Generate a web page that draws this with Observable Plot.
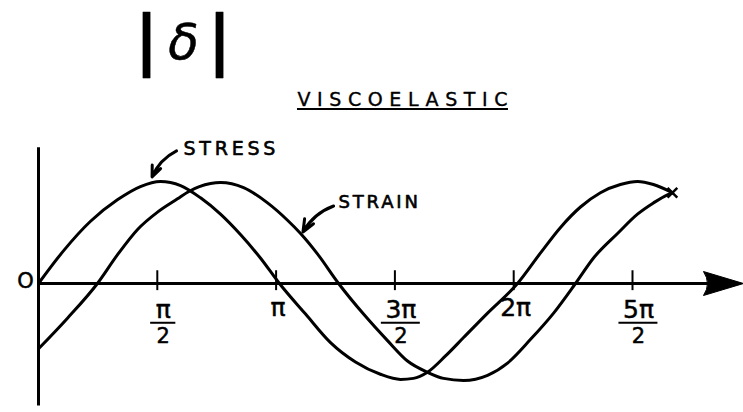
<!DOCTYPE html>
<html><head><meta charset="utf-8">
<script src="https://cdn.jsdelivr.net/npm/d3@7"></script>
<script src="https://cdn.jsdelivr.net/npm/@observablehq/plot@0.6"></script>
<style>body{margin:0;background:#fff} svg{display:block;background:#fff}</style>
</head><body><div id="chart"></div>
<script>
// phase in units of π, amplitude normalised to 1
const stressPhase = [0, 0.105, 0.219, 0.332, 0.429, 0.513, 0.598, 0.682, 0.766, 0.850, 0.934, 1.014, 1.124, 1.229, 1.334, 1.439, 1.524, 1.578, 1.637, 1.713, 1.789, 1.890, 2.016, 2.113, 2.197, 2.281, 2.365, 2.449, 2.521, 2.588, 2.668];
const stressValue = [0, 0.32, 0.61, 0.82, 0.95, 1.0, 0.96, 0.84, 0.68, 0.48, 0.25, 0, -0.30, -0.58, -0.77, -0.89, -0.94, -0.93, -0.87, -0.71, -0.53, -0.29, 0, 0.30, 0.55, 0.75, 0.89, 0.97, 1.0, 0.97, 0.89];
const strainPhase = [0, 0.122, 0.248, 0.332, 0.417, 0.501, 0.585, 0.631, 0.724, 0.766, 0.863, 0.964, 1.048, 1.103, 1.174, 1.263, 1.368, 1.469, 1.553, 1.637, 1.705, 1.789, 1.890, 1.974, 2.070, 2.168, 2.260, 2.336, 2.437, 2.521, 2.588, 2.647, 2.668];
const strainValue = [-0.64, -0.34, 0, 0.28, 0.53, 0.70, 0.83, 0.90, 0.98, 0.99, 0.94, 0.79, 0.62, 0.49, 0.29, 0, -0.30, -0.56, -0.76, -0.87, -0.93, -0.95, -0.90, -0.78, -0.55, -0.29, 0, 0.25, 0.49, 0.68, 0.79, 0.87, 0.89];
const tickValues = [0.5, 1, 1.5, 2, 2.5];
const tickNumerators = ["π", "π", "3π", "2π", "5π"];
const tickDenominators = ["2", "", "2", "", "2"];
const titleText = "δ";
const headingText = "VISCOELASTIC";
const stressLabel = "STRESS";
const strainLabel = "STRAIN";
const originLabel = "O";

const stress = stressPhase.map((x, i) => ({x, y: stressValue[i]}));
const strain = strainPhase.map((x, i) => ({x, y: strainValue[i]}));
const ticks = tickValues.map((v, i) => ({v, num: tickNumerators[i], den: tickDenominators[i]}));
const fractions = ticks.filter(d => d.den);
const singles = ticks.filter(d => !d.den);

const font = "DejaVu Sans, sans-serif";
const xEnd = 2.967;
const arrowHead = {draw(ctx) {
  ctx.moveTo(0, 0);
  ctx.lineTo(-40, -12);
  ctx.quadraticCurveTo(-32, 0, -40, 12);
  ctx.closePath();
}};
const ink = {fill: "black", stroke: "black", fontFamily: font};

const chart = Plot.plot({
  width: 743, height: 412,
  marginTop: 0, marginRight: 0, marginBottom: 0, marginLeft: 0,
  x: {domain: [0, 2.5], range: [38, 632], axis: null},
  y: {domain: [-1, 1], range: [385, 181], axis: null},
  marks: [
    // axes
    Plot.ruleY([0], {x1: 0, x2: xEnd - 0.05, stroke: "black", strokeWidth: 3}),
    Plot.ruleX([0], {y1: -1.2, y2: 1.33, stroke: "black", strokeWidth: 3}),
    Plot.dot([{x: xEnd, y: 0}], {x: "x", y: "y", symbol: arrowHead, fill: "black", stroke: "black", strokeWidth: 1}),
    Plot.ruleX(ticks, {x: "v", y1: -0.07, y2: 0.125, stroke: "black", strokeWidth: 2}),
    // curves
    Plot.line(stress, {x: "x", y: "y", curve: "monotone-x", stroke: "black", strokeWidth: 3}),
    Plot.line(strain, {x: "x", y: "y", curve: "monotone-x", stroke: "black", strokeWidth: 3}),
    Plot.dot([stress[stress.length - 1]], {x: "x", y: "y", symbol: "times", r: 4.5, stroke: "black", strokeWidth: 2.5}),
    // tick labels
    Plot.text(fractions, {x: "v", y: -0.255, text: "num", dx: 6, fontSize: 25, strokeWidth: 0.5, ...ink}),
    Plot.ruleY(fractions, {y: -0.385, x1: d => d.v - (d.num.length > 1 ? 0.082 : 0.053) + 0.025, x2: d => d.v + (d.num.length > 1 ? 0.082 : 0.053) + 0.025, stroke: "black", strokeWidth: 2}),
    Plot.text(fractions, {x: "v", y: -0.52, text: "den", dx: 6, fontSize: 21, strokeWidth: 0.5, ...ink}),
    Plot.text(singles, {x: "v", y: -0.245, text: "num", dx: 2, fontSize: 25, strokeWidth: 0.5, ...ink}),
    Plot.text([originLabel], {x: -0.055, y: 0.02, fontSize: 21, strokeWidth: 0.5, ...ink}),
    // annotations
    Plot.text([stressLabel], {x: 0.61, y: 1.32, textAnchor: "start", fontSize: 19, strokeWidth: 0.6, ...ink}),
    Plot.arrow([0], {x1: 0.581, y1: 1.30, x2: 0.478, y2: 1.045, bend: -20, headLength: 13, headAngle: 45, stroke: "black", strokeWidth: 3}),
    Plot.text([strainLabel], {x: 1.263, y: 0.80, textAnchor: "start", fontSize: 18, strokeWidth: 0.6, ...ink}),
    Plot.arrow([0], {x1: 1.242, y1: 0.76, x2: 1.113, y2: 0.505, bend: -20, headLength: 13, headAngle: 45, stroke: "black", strokeWidth: 3}),
    Plot.text([headingText], {x: 1.09, y: 1.804, textAnchor: "start", fontSize: 19, strokeWidth: 0.4, ...ink}),
    Plot.ruleY([1.711], {x1: 1.09, x2: 1.978, stroke: "black", strokeWidth: 2}),
    // title |δ|
    Plot.text(["|"], {frameAnchor: "top-left", textAnchor: "middle", lineAnchor: "middle", dx: 146, dy: 40, fontSize: 66, fontWeight: "bold", strokeWidth: 0.3, ...ink}),
    Plot.text([titleText], {frameAnchor: "top-left", textAnchor: "middle", lineAnchor: "middle", dx: 183, dy: 42, fontSize: 50, fontStyle: "italic", strokeWidth: 0.5, ...ink}),
    Plot.text(["|"], {frameAnchor: "top-left", textAnchor: "middle", lineAnchor: "middle", dx: 219, dy: 40, fontSize: 66, fontWeight: "bold", strokeWidth: 0.3, ...ink})
  ]
});
const spacing = {[stressLabel]: 3.8, [strainLabel]: 2.8, [headingText]: 6.6};
d3.select(chart).selectAll("text").each(function() {
  const s = spacing[this.textContent];
  if (s !== undefined) this.setAttribute("letter-spacing", s);
});
document.getElementById("chart").appendChild(chart);
</script>
</body></html>
